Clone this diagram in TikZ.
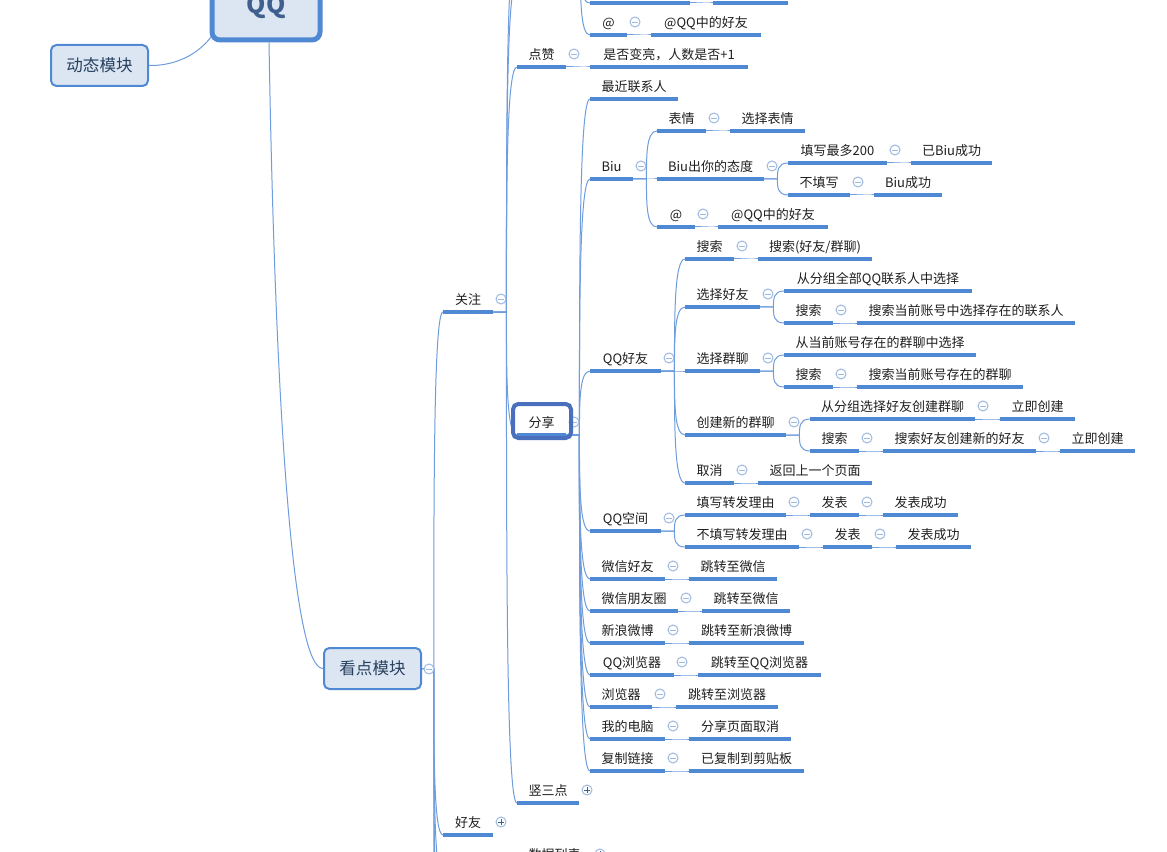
\documentclass[tikz,border=0pt]{standalone}
\usepackage{fontspec}
\usetikzlibrary{calc}
\setmainfont{Noto Sans CJK SC}
\definecolor{linkblue}{HTML}{6E9CDC}
\definecolor{lineblue}{HTML}{5089D3}
\definecolor{boxfill}{HTML}{DCE6F3}
\definecolor{selblue}{HTML}{4A6FBD}
\definecolor{expblue}{HTML}{9DB9E2}
\definecolor{plusdark}{HTML}{3F5F8F}
\definecolor{boxtext}{HTML}{26405F}
\tikzset{
  topic/.style={anchor=south west,inner sep=0pt,outer sep=0pt,minimum height=19.5pt,text height=9pt,text depth=1pt,font=\fontsize{9.75pt}{11pt}\selectfont,text=black!88},
  uline/.style={draw=lineblue,line width=2.6pt},
  conn/.style={draw=linkblue,line width=0.75pt},
  expm/.style={circle,draw=expblue,fill=white,line width=0.75pt,minimum size=7.5pt,inner sep=0pt},
  expp/.style={circle,draw=expblue,fill=white,line width=0.75pt,minimum size=7.5pt,inner sep=0pt},
  minusmark/.style={draw=expblue,line width=0.6pt},
  plusmark/.style={draw=plusdark,line width=0.6pt},
  mainbox/.style={draw=lineblue,fill=boxfill,rounded corners=4pt,line width=1.5pt,minimum width=72.75pt,minimum height=30.75pt,inner sep=0pt,text=boxtext,font=\fontsize{12.4pt}{14pt}\selectfont},
  rootbox/.style={draw=lineblue,fill=boxfill,rounded corners=6pt,line width=3.75pt,minimum width=81pt,minimum height=49.5pt,inner sep=0pt,text=plusdark,font=\fontsize{18.5pt}{20pt}\selectfont\bfseries},
  selbox/.style={draw=selblue,rounded corners=4pt,line width=3pt,minimum width=43.5pt,minimum height=25.5pt,inner sep=0pt}
}
\newcommand{\mmT}[5]{\node[topic,minimum width={(#3-#2)*0.75pt}] (#1) at (#2,#4) {#5};
  \draw[uline] ([xshift=-0.1pt]#1.south west) -- ([xshift=0.1pt]#1.south east);}
\newcommand{\mmLink}[2]{\draw[conn] let \p1=(#1),\p2=(#2),\n1={\x1+0.56*(\x2-\x1)},\n2={\y1+0.5*(\y2-\y1)} in (\p1) -- (\n1,\y1) .. controls (\n1,\n2) and (\n1,\y2) .. (\p2);}
\newcommand{\mmL}[2]{\mmLink{#1.south east}{#2.south west}}
\newcommand{\mmM}[1]{\node[expm] (#1-e) at ([xshift=6pt,yshift=9.75pt]#1.south east) {};
  \draw[minusmark] ([xshift=-2.2pt]#1-e.center) -- ([xshift=2.2pt]#1-e.center);}
\newcommand{\mmP}[1]{\node[expp] (#1-e) at ([xshift=6pt,yshift=9.75pt]#1.south east) {};
  \draw[plusmark] ([xshift=-2.2pt]#1-e.center) -- ([xshift=2.2pt]#1-e.center);
  \draw[plusmark] ([yshift=-2.2pt]#1-e.center) -- ([yshift=2.2pt]#1-e.center);}
\begin{document}
\begin{tikzpicture}[x=0.75pt,y=-0.75pt]
\useasboundingbox (0,0) rectangle (1167,852);
\fill[white] (0,0) rectangle (1167,852);
\clip (0,0) rectangle (1167,852);

% free ends of branches that run off the picture
\coordinate (upA) at (517,-20);
\coordinate (upB) at (517,-60);
\coordinate (upP) at (568,-40);
\coordinate (dnA) at (443,880);
\coordinate (dnB) at (443,960);
\coordinate (dnC) at (443,1200);

% main boxes
\node[mainbox] (dongtai) at (99.5,65.5) {动态模块};
\node[mainbox] (kandian) at (372.5,668.5) {看点模块};

% topics
\mmT{guanzhu}{443}{493}{312}{关注}
\mmT{haoyou}{443}{493}{835}{好友}
\mmT{dianzan}{517}{566}{67}{点赞}
\mmT{shifou}{590}{748}{67}{是否变亮，人数是否+1}
\mmT{fenxiang}{517}{566}{435}{分享}
\mmT{shusan}{517}{579}{803}{竖三点}
\mmT{shuju}{517}{592}{867}{数据列表}
\mmT{topa}{590}{690}{3}{}
\mmT{topb}{713}{788}{3}{}
\mmT{at}{590}{627}{35}{@}
\mmT{atq}{651}{761}{35}{@QQ中的好友}
\mmT{zuijin}{590}{678}{99}{最近联系人}
\mmT{biu}{590}{633}{179}{Biu}
\mmT{biaoqing}{657}{706}{131}{表情}
\mmT{xuanbq}{730}{805}{131}{选择表情}
\mmT{biutd}{657}{764}{179}{Biu出你的态度}
\mmT{tianxie}{788}{887}{163}{填写最多200}
\mmT{yibiu}{911}{992}{163}{已Biu成功}
\mmT{butian}{788}{850}{195}{不填写}
\mmT{biucg}{874}{942}{195}{Biu成功}
\mmT{atb}{657}{695}{227}{@}
\mmT{atbq}{718}{828}{227}{@QQ中的好友}
\mmT{qqhy}{590}{661}{371}{QQ好友}
\mmT{ssa}{685}{734}{259}{搜索}
\mmT{ssb}{758}{872}{259}{搜索(好友/群聊)}
\mmT{xzhy}{685}{760}{307}{选择好友}
\mmT{cong}{784}{972}{291}{从分组全部QQ联系人中选择}
\mmT{ssc}{784}{833}{323}{搜索}
\mmT{ssd}{857}{1075}{323}{搜索当前账号中选择存在的联系人}
\mmT{xzql}{685}{760}{371}{选择群聊}
\mmT{congb}{784}{976}{355}{从当前账号存在的群聊中选择}
\mmT{sse}{784}{833}{387}{搜索}
\mmT{ssf}{857}{1023}{387}{搜索当前账号存在的群聊}
\mmT{cjql}{685}{786}{435}{创建新的群聊}
\mmT{congc}{810}{975}{419}{从分组选择好友创建群聊}
\mmT{ljcj}{1000}{1075}{419}{立即创建}
\mmT{ssg}{810}{859}{451}{搜索}
\mmT{ssh}{883}{1036}{451}{搜索好友创建新的好友}
\mmT{ljcjb}{1060}{1135}{451}{立即创建}
\mmT{quxiao}{685}{734}{483}{取消}
\mmT{fanhui}{758}{872}{483}{返回上一个页面}
\mmT{qqkj}{590}{661}{531}{QQ空间}
\mmT{txly}{685}{786}{515}{填写转发理由}
\mmT{fb}{810}{859}{515}{发表}
\mmT{fbcg}{883}{958}{515}{发表成功}
\mmT{btly}{685}{799}{547}{不填写转发理由}
\mmT{fbb}{823}{872}{547}{发表}
\mmT{fbcgb}{896}{971}{547}{发表成功}
\mmT{wxhy}{590}{665}{579}{微信好友}
\mmT{tzwx}{689}{777}{579}{跳转至微信}
\mmT{wxpyq}{590}{678}{611}{微信朋友圈}
\mmT{tzwxb}{702}{790}{611}{跳转至微信}
\mmT{xlwb}{590}{665}{643}{新浪微博}
\mmT{tzxl}{689}{804}{643}{跳转至新浪微博}
\mmT{qqllq}{590}{674}{675}{QQ浏览器}
\mmT{tzqq}{698}{821}{675}{跳转至QQ浏览器}
\mmT{llq}{590}{652}{707}{浏览器}
\mmT{tzllq}{676}{778}{707}{跳转至浏览器}
\mmT{wddn}{590}{665}{739}{我的电脑}
\mmT{fxqx}{689}{791}{739}{分享页面取消}
\mmT{fzlj}{590}{665}{771}{复制链接}
\mmT{yfz}{689}{804}{771}{已复制到剪贴板}

% connectors
\mmLink{kandian.east}{guanzhu.south west}
\mmLink{kandian.east}{haoyou.south west}
\mmLink{kandian.east}{dnA}
\mmLink{kandian.east}{dnB}
\mmLink{kandian.east}{dnC}
\mmLink{guanzhu.south east}{upA}
\mmLink{guanzhu.south east}{upB}
\mmLink{upP}{topa.south west}
\mmLink{upP}{at.south west}
\mmL{guanzhu}{dianzan}
\mmL{guanzhu}{fenxiang}
\mmL{guanzhu}{shusan}
\mmL{dianzan}{shifou}
\mmL{topa}{topb}
\mmL{at}{atq}
\mmL{fenxiang}{zuijin}
\mmL{fenxiang}{biu}
\mmL{fenxiang}{qqhy}
\mmL{fenxiang}{qqkj}
\mmL{fenxiang}{wxhy}
\mmL{fenxiang}{wxpyq}
\mmL{fenxiang}{xlwb}
\mmL{fenxiang}{qqllq}
\mmL{fenxiang}{llq}
\mmL{fenxiang}{wddn}
\mmL{fenxiang}{fzlj}
\mmL{biu}{biaoqing}
\mmL{biu}{biutd}
\mmL{biu}{atb}
\mmL{biaoqing}{xuanbq}
\mmL{biutd}{tianxie}
\mmL{biutd}{butian}
\mmL{tianxie}{yibiu}
\mmL{butian}{biucg}
\mmL{atb}{atbq}
\mmL{qqhy}{ssa}
\mmL{qqhy}{xzhy}
\mmL{qqhy}{xzql}
\mmL{qqhy}{cjql}
\mmL{qqhy}{quxiao}
\mmL{ssa}{ssb}
\mmL{xzhy}{cong}
\mmL{xzhy}{ssc}
\mmL{ssc}{ssd}
\mmL{xzql}{congb}
\mmL{xzql}{sse}
\mmL{sse}{ssf}
\mmL{cjql}{congc}
\mmL{cjql}{ssg}
\mmL{congc}{ljcj}
\mmL{ssg}{ssh}
\mmL{ssh}{ljcjb}
\mmL{quxiao}{fanhui}
\mmL{qqkj}{txly}
\mmL{qqkj}{btly}
\mmL{txly}{fb}
\mmL{fb}{fbcg}
\mmL{btly}{fbb}
\mmL{fbb}{fbcgb}
\mmL{wxhy}{tzwx}
\mmL{wxpyq}{tzwxb}
\mmL{xlwb}{tzxl}
\mmL{qqllq}{tzqq}
\mmL{llq}{tzllq}
\mmL{wddn}{fxqx}
\mmL{fzlj}{yfz}

% expanders
\mmM{guanzhu}\mmP{haoyou}\mmM{dianzan}\mmM{fenxiang}\mmP{shusan}\mmP{shuju}
\mmM{at}\mmM{biu}\mmM{biaoqing}\mmM{biutd}\mmM{tianxie}\mmM{butian}\mmM{atb}
\mmM{qqhy}\mmM{ssa}\mmM{xzhy}\mmM{ssc}\mmM{xzql}\mmM{sse}\mmM{cjql}\mmM{congc}\mmM{ssg}\mmM{ssh}\mmM{quxiao}
\mmM{qqkj}\mmM{txly}\mmM{fb}\mmM{btly}\mmM{fbb}
\mmM{wxhy}\mmM{wxpyq}\mmM{xlwb}\mmM{qqllq}\mmM{llq}\mmM{wddn}\mmM{fzlj}
\node[expm] (kandian-e) at (429,669) {};
\draw[minusmark] ([xshift=-2.2pt]kandian-e.center) -- ([xshift=2.2pt]kandian-e.center);

% selection frame and root
\node[selbox] (sel) at (542,421) {};
\node[rootbox] (root) at (266,7) {QQ};
\draw[conn] ([xshift=1pt,yshift=4pt]root.south west) .. controls (195,58) and (170,66) .. (dongtai.east);
\draw[conn] ([xshift=2.25pt]root.south) .. controls (275,400) and (292,669) .. (kandian.west);
\end{tikzpicture}
\end{document}
